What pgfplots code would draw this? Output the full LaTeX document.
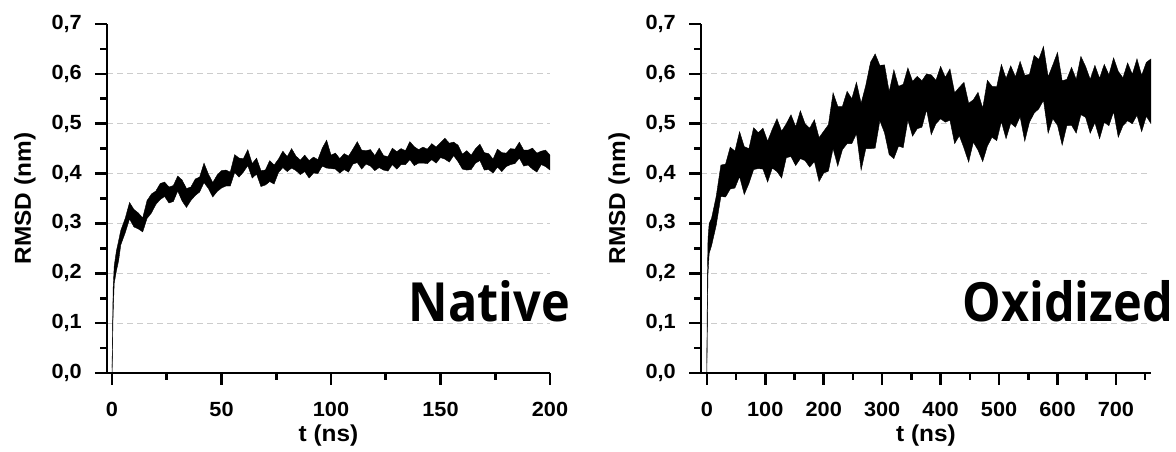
\documentclass[border=0pt]{standalone}
\usepackage{fontspec}
\setmainfont{Liberation Sans}[FakeStretch=1.06]
\newfontfamily\bigfont{Open Sans}[FakeStretch=0.9]
\usepackage{pgfplots}
\usepackage{pgfplotstable}
\pgfplotsset{compat=1.18}
\usepgfplotslibrary{fillbetween}

% RMSD envelopes (lower / upper edge of the noisy trace)
\pgfplotstableread{
t lo hi
0 0.000 0.010
0.5 0.120 0.170
1 0.180 0.215
2 0.205 0.245
3 0.225 0.265
4 0.257 0.286
6 0.281 0.310
8 0.309 0.342
10 0.293 0.328
12 0.289 0.321
14 0.283 0.311
16 0.310 0.346
18 0.321 0.359
20 0.338 0.365
22 0.348 0.380
24 0.354 0.383
26 0.341 0.373
28 0.344 0.376
30 0.365 0.395
32 0.345 0.387
34 0.332 0.370
36 0.346 0.373
38 0.356 0.389
40 0.363 0.393
42 0.382 0.421
44 0.370 0.399
46 0.353 0.382
48 0.364 0.397
50 0.371 0.406
52 0.375 0.407
54 0.375 0.403
56 0.402 0.438
58 0.393 0.431
60 0.403 0.430
62 0.416 0.448
64 0.391 0.420
66 0.399 0.431
68 0.374 0.406
70 0.377 0.407
72 0.384 0.426
74 0.379 0.417
76 0.402 0.429
78 0.412 0.445
80 0.404 0.434
82 0.411 0.450
84 0.406 0.435
86 0.398 0.427
88 0.404 0.437
90 0.391 0.426
92 0.401 0.433
94 0.400 0.428
96 0.415 0.451
98 0.411 0.467
100 0.410 0.437
102 0.409 0.441
104 0.401 0.430
106 0.408 0.440
108 0.403 0.435
110 0.419 0.449
112 0.422 0.464
114 0.409 0.447
116 0.419 0.446
118 0.415 0.448
120 0.406 0.436
122 0.412 0.451
124 0.407 0.436
126 0.405 0.434
128 0.418 0.451
130 0.409 0.444
132 0.418 0.450
134 0.418 0.446
136 0.428 0.464
138 0.416 0.454
140 0.421 0.448
142 0.421 0.453
144 0.420 0.449
146 0.428 0.460
148 0.421 0.453
150 0.432 0.462
152 0.429 0.471
154 0.423 0.461
156 0.436 0.463
158 0.424 0.457
160 0.409 0.439
162 0.407 0.446
164 0.408 0.437
166 0.421 0.450
168 0.426 0.459
170 0.407 0.442
172 0.408 0.440
174 0.401 0.429
176 0.413 0.449
178 0.404 0.442
180 0.414 0.441
182 0.418 0.450
184 0.420 0.449
186 0.431 0.463
188 0.415 0.447
190 0.417 0.447
192 0.409 0.451
194 0.403 0.441
196 0.418 0.445
198 0.414 0.447
200 0.407 0.437
}\native

\pgfplotstableread{
t lo hi
0 0.000 0.020
1 0.120 0.200
2 0.200 0.270
4 0.240 0.300
8 0.255 0.310
16 0.296 0.354
24 0.354 0.417
32 0.353 0.419
40 0.369 0.453
48 0.371 0.445
56 0.394 0.484
64 0.358 0.454
72 0.380 0.450
80 0.408 0.492
88 0.410 0.482
96 0.409 0.491
104 0.383 0.465
112 0.411 0.489
120 0.404 0.510
128 0.391 0.485
136 0.432 0.500
144 0.434 0.518
152 0.416 0.494
160 0.430 0.526
168 0.426 0.500
176 0.413 0.491
184 0.424 0.508
192 0.384 0.472
200 0.401 0.485
208 0.405 0.498
216 0.450 0.562
224 0.415 0.535
232 0.448 0.535
240 0.460 0.565
248 0.460 0.550
256 0.480 0.583
264 0.407 0.541
272 0.450 0.577
280 0.450 0.623
288 0.451 0.640
296 0.506 0.617
304 0.482 0.618
312 0.438 0.564
320 0.430 0.608
328 0.455 0.575
336 0.452 0.579
344 0.507 0.612
352 0.475 0.585
360 0.490 0.595
368 0.493 0.586
376 0.528 0.600
384 0.478 0.598
392 0.500 0.587
400 0.510 0.615
408 0.503 0.593
416 0.507 0.610
424 0.460 0.562
432 0.476 0.573
440 0.451 0.583
448 0.423 0.541
456 0.463 0.548
464 0.447 0.563
472 0.424 0.531
480 0.455 0.587
488 0.473 0.575
496 0.466 0.574
504 0.504 0.619
512 0.470 0.591
520 0.501 0.616
528 0.493 0.594
536 0.514 0.625
544 0.465 0.597
552 0.503 0.599
560 0.521 0.637
568 0.530 0.629
576 0.547 0.655
584 0.481 0.594
592 0.510 0.618
600 0.497 0.643
608 0.457 0.586
616 0.496 0.589
624 0.497 0.613
632 0.481 0.589
640 0.518 0.635
648 0.513 0.615
656 0.481 0.589
664 0.502 0.617
672 0.470 0.591
680 0.503 0.619
688 0.496 0.598
696 0.524 0.632
704 0.473 0.605
712 0.496 0.592
720 0.506 0.622
728 0.500 0.599
736 0.517 0.630
744 0.484 0.597
752 0.515 0.623
760 0.500 0.630
}\oxidized

\pgfplotsset{
  rmsd/.style={
    scale only axis,
    height=349pt,
    ymin=0, ymax=0.7,
    axis x line*=bottom,
    axis y line*=left,
    axis line style={line width=2.6pt, -},
    ytick={0,0.1,0.2,0.3,0.4,0.5,0.6,0.7},
    minor ytick={0.05,0.15,0.25,0.35,0.45,0.55,0.65},
    tick align=outside,
    major tick length=12pt,
    minor tick length=7pt,
    tick style={line width=2.6pt, black},
    /pgf/number format/assume math mode=true,
    yticklabel style={inner sep=0pt, xshift=-13pt,
      /pgf/number format/.cd, fixed, fixed zerofill, precision=1, use comma},
    xticklabel style={inner sep=0pt, yshift=-17pt},
    ticklabel style={font=\bfseries\fontsize{20.5}{24}\selectfont},
    label style={font=\bfseries\fontsize{23}{27}\selectfont},
    xlabel={t (ns)},
    ylabel={RMSD (nm)},
    xlabel style={at={([yshift=-69pt]axis description cs:0.5,0)}, anchor=base, inner sep=0pt},
    ylabel style={at={([xshift=-76pt]axis description cs:0,0.5)}, anchor=base, inner sep=0pt},
    extra y ticks={0.1,0.2,0.3,0.4,0.5,0.6},
    extra y tick labels={},
    extra y tick style={grid=major, major tick length=0pt,
      major grid style={dash pattern=on 6pt off 4pt, line width=0.8pt, black!20}},
  },
}

\begin{document}
\begin{tikzpicture}
\begin{axis}[rmsd, at={(107pt,79pt)}, anchor=south west, width=443pt,
    xmin=-2.3, xmax=200,
    xtick={0,50,100,150,200},
    minor xtick={25,75,125,175}]
\addplot[name path=nu, black, line width=0.4pt] table[x=t, y=hi] {\native};
\addplot[name path=nl, black, line width=0.4pt] table[x=t, y=lo] {\native};
\addplot[black] fill between[of=nu and nl];
\end{axis}

\begin{axis}[rmsd, at={(701pt,79pt)}, anchor=south west, width=450pt,
    xmin=-10, xmax=760,
    xtick={0,100,200,300,400,500,600,700},
    minor xtick={50,150,250,350,450,550,650,750}]
\addplot[name path=ou, black, line width=0.4pt] table[x=t, y=hi] {\oxidized};
\addplot[name path=ol, black, line width=0.4pt] table[x=t, y=lo] {\oxidized};
\addplot[black] fill between[of=ou and ol];
\end{axis}

\node[anchor=base east, inner sep=0pt] at (570pt,130pt)
  {\bigfont\bfseries\fontsize{54}{60}\selectfont Native};
\node[anchor=base east, inner sep=0pt] at (1173pt,130pt)
  {\bigfont\bfseries\fontsize{54}{60}\selectfont Oxidized};

\pgfresetboundingbox
\path[use as bounding box] (0pt,0pt) rectangle (1176pt,452pt);
\end{tikzpicture}
\end{document}
